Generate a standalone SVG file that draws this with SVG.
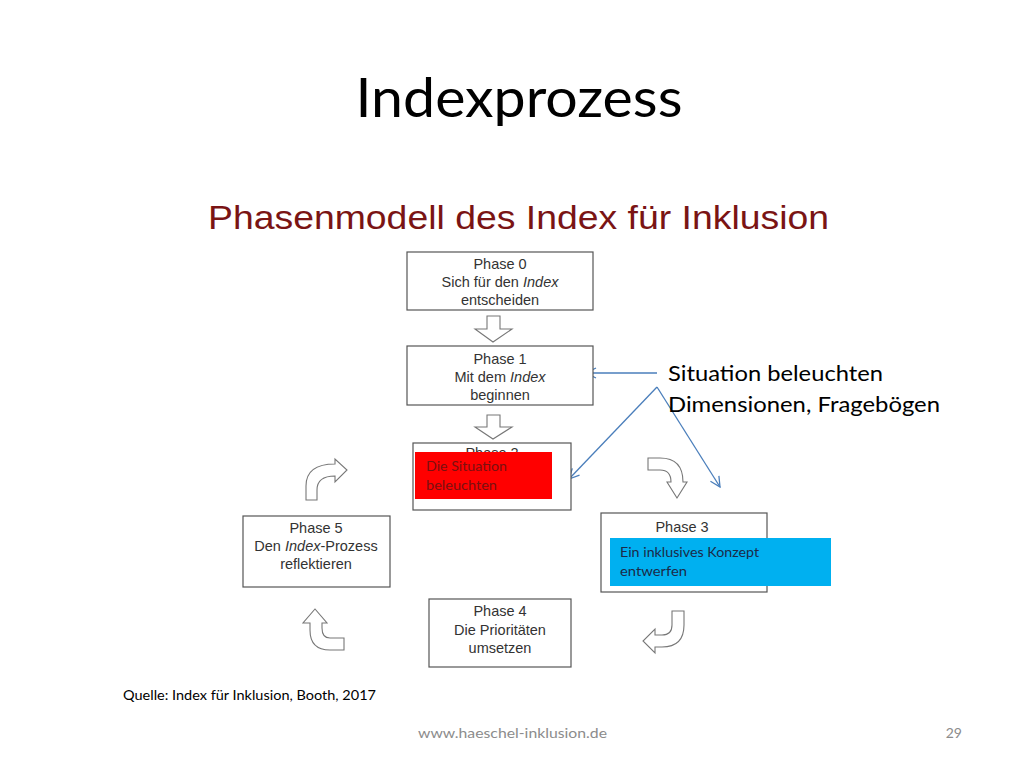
<svg xmlns="http://www.w3.org/2000/svg" width="1024" height="768" viewBox="0 0 1024 768">
<defs>
<style>
.box{fill:#fff;stroke:#555;stroke-width:1.2}
.bt{font-family:"Liberation Sans",Arial,sans-serif;font-size:14.5px;fill:#333;text-anchor:middle}
.blk{fill:#fff;stroke:#777;stroke-width:1.1}
.blue{fill:none;stroke:#4a7ebb;stroke-width:1.3}
.cal{font-family:Lato,"Open Sans",sans-serif}
</style>
<marker id="ah" viewBox="0 0 12 12" refX="11" refY="6" markerWidth="12" markerHeight="12" markerUnits="userSpaceOnUse" orient="auto">
<path d="M1,1 L11,6 L1,11" fill="none" stroke="#4a7ebb" stroke-width="1.3"/>
</marker>
</defs>
<rect width="1024" height="768" fill="#fff"/>
<text x="519" y="117" class="cal" font-size="54" fill="#000" text-anchor="middle" textLength="327" lengthAdjust="spacingAndGlyphs">Indexprozess</text>
<text x="208" y="229" font-family="Liberation Sans,Arial,sans-serif" font-size="33" fill="#7a1414" textLength="621" lengthAdjust="spacingAndGlyphs">Phasenmodell des Index für Inklusion</text>

<g id="connectors">
<path class="blk" d="M487,316 L500,316 L500,329 L512,329 L493,342 L475,329 L487,329 Z"/>
<path class="blk" d="M487,415 L500,415 L500,427 L512,427 L493,439 L475,427 L487,427 Z"/>
<path class="blk" d="M648,458 L660,458 Q683,458 683,482 L687,482 L677,498 L667,482 L671,482 Q671,470 660,470 L648,470 Z"/>
<path class="blk" d="M672,611 L684,611 L684,625 Q684,647 662,647 L655,647 L655,653 L643,641 L655,629 L655,635 L662,635 Q672,635 672,625 Z"/>
<path class="blk" d="M344,638 L330,638 Q322,638 322,628 L322,623 L327,623 L315,609 L303,623 L310,623 L310,630 Q310,650 330,650 L344,650 Z"/>
<path class="blk" d="M306,500 L306,486 Q306,464 335,464 L335,459 L347,470 L335,482 L335,476 Q317,476 317,490 L317,500 Z"/>
<line class="blue" x1="657" y1="373" x2="586" y2="373" marker-end="url(#ah)"/>
<line class="blue" x1="657" y1="387" x2="569" y2="479" marker-end="url(#ah)"/>
<line class="blue" x1="657" y1="387" x2="720" y2="487" marker-end="url(#ah)"/>
</g>

<g id="phase0">
<rect class="box" x="407" y="252" width="186" height="58"/>
<text class="bt" x="500" y="269">Phase 0</text>
<text class="bt" x="500" y="287">Sich für den <tspan font-style="italic">Index</tspan></text>
<text class="bt" x="500" y="305">entscheiden</text>
</g>
<g id="phase1">
<rect class="box" x="407" y="346" width="186" height="59"/>
<text class="bt" x="500" y="364">Phase 1</text>
<text class="bt" x="500" y="382">Mit dem <tspan font-style="italic">Index</tspan></text>
<text class="bt" x="500" y="400">beginnen</text>
</g>
<g id="phase2">
<rect class="box" x="413" y="443" width="158" height="67"/>
<text class="bt" x="492" y="458" font-size="13">Phase 2</text>
<rect x="415" y="452" width="137" height="47" fill="#ff0000"/>
<text class="cal" x="426" y="471" font-size="14" fill="#7a1010" textLength="81" lengthAdjust="spacingAndGlyphs">Die Situation</text>
<text class="cal" x="426" y="490" font-size="14" fill="#7a1010" textLength="71" lengthAdjust="spacingAndGlyphs">beleuchten</text>
</g>
<g id="phase3">
<rect class="box" x="601" y="513" width="166" height="79"/>
<text class="bt" x="682" y="532">Phase 3</text>
<rect x="610" y="538" width="221" height="48" fill="#00b0f0"/>
<text class="cal" x="620" y="557" font-size="14" fill="#1c2a48" textLength="139" lengthAdjust="spacingAndGlyphs">Ein inklusives Konzept</text>
<text class="cal" x="620" y="576" font-size="14" fill="#1c2a48" textLength="67" lengthAdjust="spacingAndGlyphs">entwerfen</text>
</g>
<g id="phase4">
<rect class="box" x="429" y="599" width="142" height="68"/>
<text class="bt" x="500" y="616">Phase 4</text>
<text class="bt" x="500" y="635">Die Prioritäten</text>
<text class="bt" x="500" y="653">umsetzen</text>
</g>
<g id="phase5">
<rect class="box" x="243" y="516" width="147" height="71"/>
<text class="bt" x="316" y="533">Phase 5</text>
<text class="bt" x="316" y="551">Den <tspan font-style="italic">Index</tspan>-Prozess</text>
<text class="bt" x="316" y="569">reflektieren</text>
</g>

<g id="annotation">
<text class="cal" x="668" y="381" font-size="22" fill="#000" textLength="215" lengthAdjust="spacingAndGlyphs">Situation beleuchten</text>
<text class="cal" x="668" y="412" font-size="22" fill="#000" textLength="272" lengthAdjust="spacingAndGlyphs">Dimensionen, Fragebögen</text>
</g>

<text class="cal" x="123" y="700" font-size="14" fill="#000" textLength="253" lengthAdjust="spacingAndGlyphs">Quelle: Index für Inklusion, Booth, 2017</text>
<text class="cal" x="418" y="738" font-size="14" fill="#8c8c8c" textLength="189" lengthAdjust="spacingAndGlyphs">www.haeschel-inklusion.de</text>
<text class="cal" x="962" y="738" font-size="14" fill="#8c8c8c" text-anchor="end">29</text>
</svg>
